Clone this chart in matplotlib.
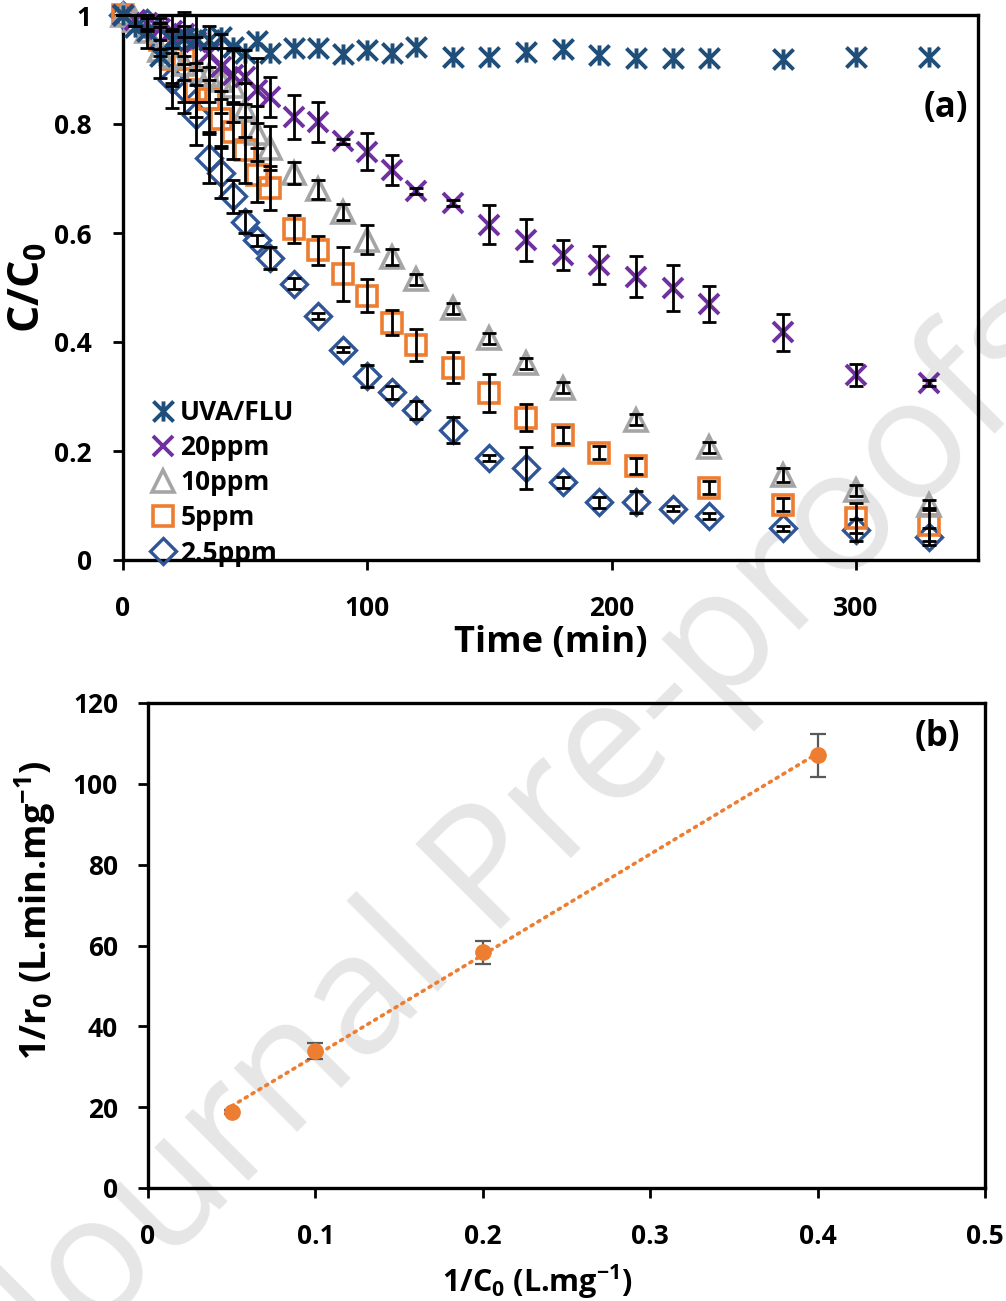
import numpy as np
import matplotlib
matplotlib.use("Agg")
import matplotlib.pyplot as plt
from matplotlib.path import Path
from matplotlib.lines import Line2D
from matplotlib.ticker import FuncFormatter, FixedLocator

plt.rcParams['font.family'] = ['Open Sans', 'DejaVu Sans']
plt.rcParams['font.weight'] = 'bold'
plt.rcParams['mathtext.fontset'] = 'custom'
plt.rcParams['mathtext.rm'] = 'Open Sans:bold'
plt.rcParams['mathtext.bf'] = 'Open Sans:bold'
plt.rcParams['mathtext.it'] = 'Open Sans:bold'
plt.rcParams['axes.unicode_minus'] = False

# ---------------- data: panel (a) ----------------
t_uva = [0, 5, 10, 15, 20, 25, 30, 35, 40, 45, 50, 55, 60, 70, 80, 90, 100, 110, 120,
         135, 150, 165, 180, 195, 210, 225, 240, 270, 300, 330]
c_uva = [1.0, 0.978, 0.97, 0.925, 0.955, 0.958, 0.957, 0.955, 0.96, 0.942, 0.93, 0.953, 0.93,
         0.94, 0.939, 0.928, 0.936, 0.931, 0.941, 0.923, 0.923, 0.932, 0.937, 0.927, 0.921,
         0.921, 0.921, 0.919, 0.923, 0.923]

t_20 = [0, 5, 10, 15, 20, 25, 30, 35, 40, 45, 50, 55, 60, 70, 80, 90, 100, 110, 120,
        135, 150, 165, 180, 195, 210, 225, 240, 270, 300, 330]
c_20 = [1.0, 0.99, 0.985, 0.975, 0.97, 0.965, 0.95, 0.93, 0.905, 0.89, 0.886, 0.862, 0.85,
        0.813, 0.804, 0.768, 0.749, 0.716, 0.677, 0.655, 0.615, 0.587, 0.560, 0.541, 0.520,
        0.499, 0.470, 0.418, 0.339, 0.325]
e_20 = [0, 0.01, 0.015, 0.02, 0.03, 0.04, 0.05, 0.05, 0.06, 0.05, 0.05, 0.06, 0.037,
        0.04, 0.037, 0.005, 0.034, 0.028, 0.005, 0.005, 0.036, 0.038, 0.028, 0.035, 0.037,
        0.042, 0.033, 0.034, 0.02, 0.005]

t_10 = [0, 5, 10, 15, 20, 25, 30, 35, 40, 45, 50, 55, 60, 70, 80, 90, 100, 110, 120,
        135, 150, 165, 180, 210, 240, 270, 300, 330]
c_10 = [1.0, 0.99, 0.97, 0.935, 0.925, 0.91, 0.9, 0.89, 0.88, 0.87, 0.826, 0.783, 0.756,
        0.71, 0.68, 0.638, 0.588, 0.556, 0.515, 0.462, 0.407, 0.361, 0.316, 0.257, 0.207,
        0.156, 0.128, 0.101]
e_10 = [0, 0.01, 0.03, 0.05, 0.05, 0.07, 0.06, 0.05, 0.06, 0.066, 0.05, 0.05, 0.04, 0.02,
        0.018, 0.015, 0.026, 0.015, 0.01, 0.01, 0.01, 0.01, 0.01, 0.01, 0.01, 0.012, 0.01, 0.01]

t_5 = [0, 15, 20, 25, 30, 35, 40, 45, 50, 55, 60, 70, 80, 90, 100, 110, 120,
       135, 150, 165, 180, 195, 210, 240, 270, 300, 330]
c_5 = [1.0, 0.955, 0.92, 0.92, 0.862, 0.845, 0.81, 0.786, 0.752, 0.706, 0.683, 0.607, 0.568,
       0.525, 0.485, 0.435, 0.395, 0.353, 0.306, 0.261, 0.229, 0.197, 0.173, 0.133, 0.101,
       0.077, 0.065]
e_5 = [0, 0.03, 0.05, 0.04, 0.05, 0.06, 0.05, 0.05, 0.06, 0.05, 0.04, 0.026, 0.027, 0.05,
       0.03, 0.023, 0.029, 0.028, 0.035, 0.025, 0.015, 0.012, 0.015, 0.012, 0.012, 0.028, 0.03]

t_25 = [0, 10, 15, 20, 25, 30, 35, 40, 45, 50, 55, 60, 70, 80, 90, 100, 110, 120,
        135, 150, 165, 180, 195, 210, 225, 240, 270, 300, 330]
c_25 = [1.0, 0.985, 0.958, 0.88, 0.866, 0.817, 0.737, 0.71, 0.667, 0.62, 0.587, 0.554, 0.507,
        0.448, 0.386, 0.338, 0.308, 0.275, 0.239, 0.187, 0.169, 0.143, 0.106, 0.106, 0.094,
        0.081, 0.058, 0.055, 0.043]
e_25 = [0, 0.01, 0.02, 0.05, 0.045, 0.055, 0.045, 0.046, 0.03, 0.02, 0.01, 0.02, 0.01,
        0.005, 0.005, 0.02, 0.012, 0.016, 0.024, 0.005, 0.038, 0.01, 0.01, 0.02, 0.005,
        0.005, 0.005, 0.02, 0.015]

series_labels = ['UVA/FLU', '20ppm', '10ppm', '5ppm', '2.5ppm']

# ---------------- data: panel (b) ----------------
inv_c0 = [0.05, 0.1, 0.2, 0.4]
inv_r0 = [18.9, 33.9, 58.3, 107.1]
inv_r0_err = [0.5, 1.9, 2.8, 5.3]

# ---------------- style ----------------
C_UVA = '#1F4E79'
C_20 = '#7030A0'
C_10 = '#A5A5A5'
C_5 = '#ED7D31'
C_25 = '#2F5597'

star = Path([(-1, -1), (1, 1), (-1, 1), (1, -1), (0, -1), (0, 1)],
            [Path.MOVETO, Path.LINETO, Path.MOVETO, Path.LINETO, Path.MOVETO, Path.LINETO])

MK = {
    'UVA/FLU': dict(marker=star, ms=14.5, mew=2.8, color=C_UVA),
    '20ppm': dict(marker='x', ms=15, mew=2.8, color=C_20),
    '10ppm': dict(marker='^', ms=16, mew=2.6, color=C_10),
    '5ppm': dict(marker='s', ms=15, mew=2.6, color=C_5),
    '2.5ppm': dict(marker='D', ms=13, mew=2.4, color=C_25),
}

fig = plt.figure(figsize=(10.06, 13.01), dpi=100)

# watermark
fig.text(0.54, 0.357, 'Journal Pre-proofs', rotation=45, fontsize=122,
         family='Open Sans', fontweight='normal', color='#e6e6e6',
         ha='center', va='center', zorder=-5)

spine_w = 2.4
ax = fig.add_axes([123 / 1006, 1 - 560 / 1301, 855 / 1006, 545 / 1301])
ax.patch.set_facecolor('none')

def series(t, c, e, label):
    m = MK[label]
    ax.plot(t, c, linestyle='none', marker=m['marker'], markersize=m['ms'],
            markerfacecolor='none', markeredgecolor=m['color'], markeredgewidth=m['mew'],
            clip_on=False, zorder=3, label=label)
    if e is not None:
        ax.errorbar(t, c, yerr=e, fmt='none', ecolor='black', elinewidth=2.0,
                    capsize=5, capthick=2.0, zorder=4, clip_on=False)

series(t_25, c_25, e_25, '2.5ppm')
series(t_5, c_5, e_5, '5ppm')
series(t_10, c_10, e_10, '10ppm')
series(t_20, c_20, e_20, '20ppm')
series(t_uva, c_uva, None, 'UVA/FLU')

ax.set_xlim(0, 350)
ax.set_ylim(0, 1)
ax.xaxis.set_major_locator(FixedLocator([0, 100, 200, 300]))
ax.yaxis.set_major_locator(FixedLocator([0, 0.2, 0.4, 0.6, 0.8, 1.0]))
ax.yaxis.set_major_formatter(FuncFormatter(lambda v, p: f'{v:g}'))
for s in ax.spines.values():
    s.set_linewidth(spine_w)
ax.tick_params(direction='out', length=7.5, width=2, labelsize=19)
ax.tick_params(axis='x', pad=18)
ax.tick_params(axis='y', pad=15)
ax.set_xlabel('Time (min)', fontsize=26, fontweight='bold')
ax.set_ylabel('C/C$_0$', fontsize=31, fontweight='bold')
ax.xaxis.set_label_coords(0.5, -0.12)
ax.yaxis.set_label_coords(-0.086, 0.5)
ax.text(0.988, 0.83, '(a)', transform=ax.transAxes, ha='right', va='center',
        fontsize=25, fontweight='bold')

handles = [Line2D([], [], linestyle='none', marker=MK[k]['marker'], markersize=MK[k]['ms'],
                  markerfacecolor='none', markeredgecolor=MK[k]['color'],
                  markeredgewidth=MK[k]['mew']) for k in series_labels]
leg = ax.legend(handles, series_labels, loc='lower left', bbox_to_anchor=(0.033, -0.012),
                frameon=False, handlelength=0.9, handletextpad=0.2, labelspacing=0.31,
                borderpad=0.0, borderaxespad=0.0, prop={'size': 19, 'weight': 'bold'})

# ---------------- panel (b) ----------------
bx = fig.add_axes([148 / 1006, 1 - 1188 / 1301, 837 / 1006, 485 / 1301])
bx.patch.set_facecolor('none')
slope, intercept = np.polyfit(inv_c0, inv_r0, 1)
xf = np.array([min(inv_c0), max(inv_c0)])
bx.plot(xf, slope * xf + intercept, linestyle=(0, (0.6, 1.6)), dash_capstyle='round',
        color=C_5, linewidth=2.6, zorder=2)
bx.errorbar(inv_c0, inv_r0, yerr=inv_r0_err, fmt='none', ecolor='#595959', elinewidth=1.6,
            capsize=6, capthick=1.6, zorder=3)
bx.plot(inv_c0, inv_r0, linestyle='none', marker='o', markersize=11, color=C_5,
        markeredgecolor=C_5, zorder=4)
bx.set_xlim(0, 0.5)
bx.set_ylim(0, 120)
bx.xaxis.set_major_locator(FixedLocator([0, 0.1, 0.2, 0.3, 0.4, 0.5]))
bx.yaxis.set_major_locator(FixedLocator([0, 20, 40, 60, 80, 100, 120]))
bx.xaxis.set_major_formatter(FuncFormatter(lambda v, p: f'{v:g}'))
for s in bx.spines.values():
    s.set_linewidth(spine_w)
bx.tick_params(direction='out', length=7.5, width=2, labelsize=19)
bx.tick_params(axis='x', pad=18)
bx.tick_params(axis='y', pad=14)
bx.set_xlabel('1/C$_0$ (L.mg$^{-1}$)', fontsize=22, fontweight='bold')
bx.set_ylabel('1/r$_0$ (L.min.mg$^{-1}$)', fontsize=26, fontweight='bold')
bx.xaxis.set_label_coords(0.465, -0.153)
bx.yaxis.set_label_coords(-0.1075, 0.573)
bx.text(0.97, 0.93, '(b)', transform=bx.transAxes, ha='right', va='center',
        fontsize=25, fontweight='bold')

fig.savefig('out.png', dpi=100)
